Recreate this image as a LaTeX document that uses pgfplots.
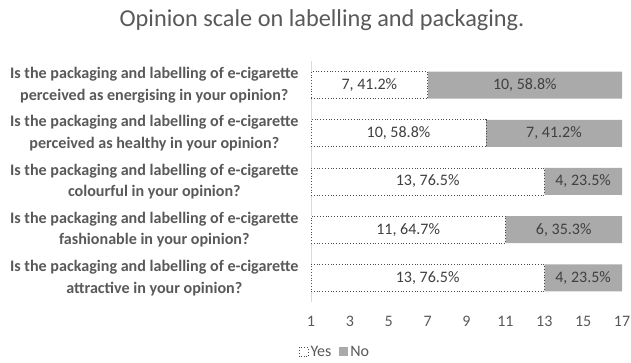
\documentclass[border=0pt]{standalone}
\usepackage{pgfplots}
\pgfplotsset{compat=1.18}
\usepackage{fontspec}
\setmainfont{Carlito}
\definecolor{txt}{RGB}{89,89,89}
\definecolor{lab}{RGB}{64,64,64}
\definecolor{nofill}{RGB}{170,170,170}
\definecolor{axl}{RGB}{217,217,217}
\begin{document}
\begin{tikzpicture}[x=1pt,y=1pt]
\path[use as bounding box] (0,0) rectangle (631,363);
\node[font=\fontsize{24.3}{28}\selectfont, text=txt] at (322,343) {Opinion scale on labelling and packaging.};
\begin{axis}[at={(311pt,61pt)}, anchor=south west, scale only axis,
  width=311pt, height=241pt,
  xbar stacked, bar width=27pt,
  xmin=1, xmax=17, ymin=0.5, ymax=5.5,
  xtick={1,3,...,17}, ytick={1,...,5},
  /pgf/number format/assume math mode=true,
  yticklabels={
    {Is the packaging and labelling of e-cigarette\\attractive in your opinion?},
    {Is the packaging and labelling of e-cigarette\\fashionable in your opinion?},
    {Is the packaging and labelling of e-cigarette\\colourful in your opinion?},
    {Is the packaging and labelling of e-cigarette\\perceived as healthy in your opinion?},
    {Is the packaging and labelling of e-cigarette\\perceived as energising in your opinion?}},
  yticklabel style={align=center, font=\fontsize{16.1}{21.5}\selectfont\bfseries, text=txt, xshift=-9pt},
  xticklabel style={font=\fontsize{16}{18}\selectfont, text=txt, yshift=-11pt},
  major tick length=0pt,
  axis lines*=left,
  x axis line style={draw=none},
  y axis line style={draw=axl, line width=1pt},
  legend style={at={(0.077,-0.207)}, anchor=center, draw=none, legend columns=2,
    font=\fontsize{16}{18}\selectfont, text=txt, inner sep=0pt,
    /tikz/every even column/.append style={column sep=6pt}},
  legend cell align=left,
]
\addplot[fill=white, draw=black!70, dotted, line width=0.8pt,
  legend image code/.code={\draw[fill=white, draw=black!70, dotted, line width=0.8pt] (0pt,-4.5pt) rectangle (9pt,4.5pt);}]
  coordinates {(13,1) (11,2) (13,3) (10,4) (7,5)};
\addplot[fill=nofill, draw=none,
  legend image code/.code={\fill[nofill] (0pt,-4.5pt) rectangle (9pt,4.5pt);}]
  coordinates {(4,1) (6,2) (4,3) (7,4) (10,5)};
\legend{Yes, No}
\end{axis}
\begin{axis}[at={(311pt,61pt)}, anchor=south west, scale only axis,
  width=311pt, height=241pt, hide axis,
  xmin=1, xmax=17, ymin=0.5, ymax=5.5]
\addplot[only marks, mark=none, nodes near coords, point meta=explicit symbolic,
  every node near coord/.style={anchor=center, font=\fontsize{16}{18}\selectfont, text=lab}]
  coordinates {
  (7,1) [13, 76.5\%] (6,2) [11, 64.7\%] (7,3) [13, 76.5\%] (5.5,4) [10, 58.8\%] (4,5) [7, 41.2\%]
  (15,1) [4, 23.5\%] (14,2) [6, 35.3\%] (15,3) [4, 23.5\%] (13.5,4) [7, 41.2\%] (12,5) [10, 58.8\%]
  };
\end{axis}
\end{tikzpicture}
\end{document}
